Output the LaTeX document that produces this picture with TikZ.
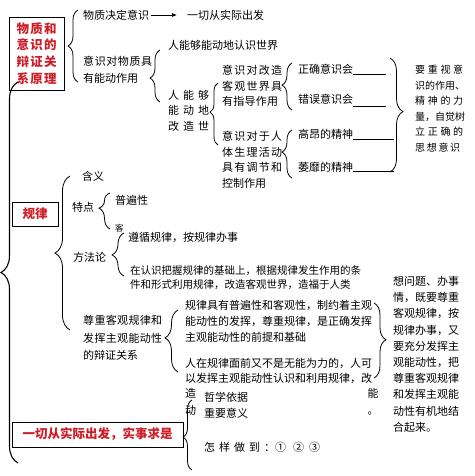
\documentclass[tikz,border=0pt]{standalone}
\usepackage{fontspec}
\setmainfont{Noto Sans CJK SC}
\usetikzlibrary{decorations.pathreplacing,arrows.meta}
\definecolor{boxred}{RGB}{205,30,40}

% spread the characters of #2 over the width #1
\ExplSyntaxOn
\NewDocumentCommand\spr{mm}{\hbox_to_wd:nn{#1}{\tl_map_inline:nn{#2}{##1\hfil}\unskip}}
\ExplSyntaxOff

\tikzset{
  txt/.style={inner sep=0pt, font=\fontsize{11}{15.5}\selectfont, align=left},
  redbox/.style={draw, line width=0.6pt, inner sep=0pt, text=boxred,
    font=\fontsize{12.5}{16.7}\selectfont\bfseries, align=center},
  grp/.style={decorate, decoration={brace, amplitude=#1}, line width=0.8pt},
}

\begin{document}
\begin{tikzpicture}[x=1pt, y=-1pt]
  \fill[white] (0,0) rectangle (474,476);

  % red boxes
  \node[redbox, minimum width=55pt, minimum height=73pt] (yuanli) at (36.5,53.5)
    {\spr{40pt}{物质和}\\\spr{40pt}{意识的}\\\spr{40pt}{辩证关}\\\spr{40pt}{系原理}};
  \node[redbox, minimum width=46pt, minimum height=24pt] (guilv) at (35,214) {规律};
  \node[redbox, minimum width=171pt, minimum height=25pt] (shishi) at (97.5,434.5)
    {一切从实际出发，实事求是};

  % first part
  \node[txt, anchor=west] (juedi) at (83,15) {物质决定意识};
  \node[txt, anchor=west] (chufa) at (187,15) {一切从实际出发};
  \draw[-{Latex[length=5pt,width=4pt]}, line width=0.7pt, shorten <=2pt, shorten >=10pt]
    (juedi) -- (chufa);
  \node[txt, anchor=north west, font=\fontsize{11}{17}\selectfont] (nengdong) at (83,56)
    {\spr{69pt}{意识对物质具}\\有能动作用};
  \node[txt, anchor=west] (renshi) at (168,45) {人能够能动地认识世界};
  \node[txt, anchor=north west] (gaizao) at (168,90)
    {\spr{41pt}{人能够}\\\spr{41pt}{能动地}\\\spr{41pt}{改造世}};
  \node[txt, anchor=north west] (zhidao) at (222,65)
    {\spr{60pt}{意识对改造}\\\spr{60pt}{客观世界具}\\\spr{56pt}{有指导作用}};
  \node[txt, anchor=north west] (tiaojie) at (222,131)
    {\spr{60pt}{意识对于人}\\\spr{60pt}{体生理活动}\\\spr{60pt}{具有调节和}\\控制作用};
  \node[txt, anchor=base west] (zhengque) at (298,74) {正确意识会\rule[-1pt]{33pt}{0.6pt}};
  \node[txt, anchor=base west] (cuowu) at (298,104) {错误意识会\rule[-2.5pt]{33pt}{0.8pt}};
  \node[txt, anchor=base west] (gaoang) at (298,139) {高昂的精神\rule[-1pt]{41pt}{0.6pt}};
  \node[txt, anchor=base west] (weimi) at (298,171) {萎靡的精神\rule[-1pt]{41pt}{0.8pt}};
  \node[txt, anchor=north west, font=\fontsize{10}{15.5}\selectfont] (zhongshi) at (415,65)
    {\spr{48pt}{要重视意}\\识的作用、\\\spr{48pt}{精神的力}\\量，自觉树\\\spr{48pt}{立正确的}\\\spr{45pt}{思想意识}};

  % second part
  \node[txt, anchor=west] (hanyi) at (82,176) {含义};
  \node[txt, anchor=west] (tedian) at (72,207) {特点};
  \node[txt, anchor=west] (pubian) at (115,200) {普遍性};
  \node[txt, anchor=west, font=\fontsize{8.5}{9}\selectfont] (ke) at (115,228) {客};
  \node[txt, anchor=west] (fangfa) at (73,257) {方法论};
  \node[txt, anchor=west] (zunxun) at (128,237) {遵循规律，按规律办事};
  \node[txt, anchor=north west, font=\fontsize{10.5}{14}\selectfont] (liyong) at (130,265)
    {在认识把握规律的基础上，根据规律发生作用的条\\件和形式利用规律，改造客观世界，造福于人类};
  \node[txt, anchor=north west, font=\fontsize{11}{17.5}\selectfont] (zunzhong) at (83,315)
    {\spr{79pt}{尊重客观规律和}\\\spr{79pt}{发挥主观能动性}\\的辩证关系};
  \node[txt, anchor=north west, font=\fontsize{11}{16}\selectfont] (zhiyue) at (185,300)
    {规律具有普遍性和客观性，制约着主观\\能动性的发挥，尊重规律，是正确发挥\\主观能动性的前提和基础};
  \node[txt, anchor=north west] (wuneng) at (185,358)
    {人在规律面前又不是无能为力的，人可\\以发挥主观能动性认识和利用规律，改};
  \node[txt, anchor=north west, font=\fontsize{11}{17}\selectfont] (zaodong) at (185,388) {造\\动};
  \node[txt, anchor=north, align=right, font=\fontsize{11}{17}\selectfont] (nengju) at (373,388) {能\\。};
  \node[txt, anchor=north west, font=\fontsize{11}{16.2}\selectfont] (youji) at (393,276)
    {想问题、办事\\情，既要尊重\\客观规律，按\\规律办事，又\\要充分发挥主\\观能动性，把\\尊重客观规律\\和发挥主观能\\动性有机地结\\合起来。};

  % third part
  \node[txt, anchor=north west, font=\fontsize{11}{16}\selectfont] (yiju) at (204,392)
    {哲学依据\\重要意义};
  \node[txt, anchor=west] (zenyang) at (204,447)
    {\spr{56pt}{怎样做到}\hspace{4pt}：①\hspace{7pt}②\hspace{5pt}③};

  % braces
  \draw[grp=10pt, decoration={aspect=0.5}] (78,82) -- (78,10);
  \draw[grp=10pt, decoration={aspect=0.46}] (160,102) -- (160,50);
  \draw[grp=8pt, decoration={aspect=0.53}] (218,145) -- (218,83);
  \draw[grp=10pt, decoration={aspect=0.53}] (292,110) -- (292,63);
  \draw[grp=10pt, decoration={aspect=0.54}] (292,178) -- (292,130);
  \draw[grp=13pt, decoration={aspect=0.47}] (390,58) -- (390,172);
  \draw[grp=15pt, decoration={aspect=0.5}] (70,330) -- (70,176);
  \draw[grp=11pt, decoration={aspect=0.58}] (110,229) -- (110,193);
  \draw[grp=12pt, decoration={aspect=0.49}] (124,276) -- (124,233);
  \draw[grp=13pt, decoration={aspect=0.55}] (178,372) -- (178,310);
  \draw[grp=12pt, decoration={aspect=0.49}] (374,303) -- (374,378);
  \draw[grp=9pt, decoration={aspect=0.47}] (192,470) -- (192,400);
  \draw[grp=17pt, decoration={aspect=0.5}, line width=1.1pt] (18,463) -- (18,82);
\end{tikzpicture}
\end{document}
